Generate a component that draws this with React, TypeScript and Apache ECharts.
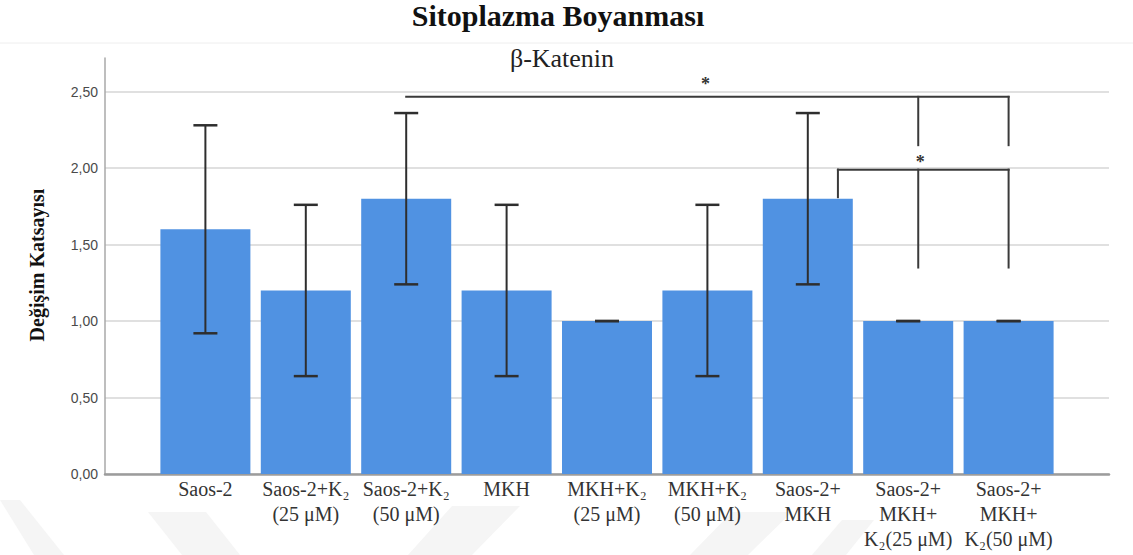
import React, { useEffect, useRef } from "react";
import * as echarts from "echarts";

// Group labels (x axis)
const categories = [
  "Saos-2",
  "Saos-2+K₂\n(25 μM)",
  "Saos-2+K₂\n(50 μM)",
  "MKH",
  "MKH+K₂\n(25 μM)",
  "MKH+K₂\n(50 μM)",
  "Saos-2+\nMKH",
  "Saos-2+\nMKH+\nK₂(25 μM)",
  "Saos-2+\nMKH+\nK₂(50 μM)",
];

// Mean change coefficient per group
const meanValues = [1.6, 1.2, 1.8, 1.2, 1.0, 1.2, 1.8, 1.0, 1.0];
// Error bar ends per group
const errorUpper = [2.28, 1.76, 2.36, 1.76, 1.0, 1.76, 2.36, 1.0, 1.0];
const errorLower = [0.92, 0.64, 1.24, 0.64, 1.0, 0.64, 1.24, 1.0, 1.0];

// Y axis range and step
const yMin = 0;
const yMax = 2.71;
const yStep = 0.5;

// Significance brackets: [x1, y1, x2, y2] in axis units
const bracketSegments = [
  [2, 2.466, 8, 2.466],
  [7.1, 2.466, 7.1, 2.15],
  [8, 2.466, 8, 2.15],
  [6.3, 1.99, 8, 1.99],
  [6.3, 1.99, 6.3, 1.81],
  [7.1, 1.99, 7.1, 1.35],
  [8, 1.99, 8, 1.35],
];
// Significance asterisks: [x, y]
const significanceMarks = [
  [4.98, 2.55],
  [7.12, 2.04],
];

const BAR_COLOR = "#5092e2";
const INK = "#2e2e2e";
const SERIF = "Liberation Serif";
const SANS = "Liberation Sans";

export default function App() {
  const ref = useRef<HTMLDivElement>(null);

  useEffect(() => {
    if (!ref.current) return;
    const chart = echarts.init(ref.current, null, { renderer: "svg" });

    const watermark = [
      [[0, 500], [20, 500], [64, 555], [34, 555]],
      [[148, 512], [206, 512], [240, 555], [182, 555]],
      [[452, 506], [520, 506], [472, 555], [408, 555]],
      [[732, 512], [792, 512], [748, 555], [690, 555]],
      [[842, 520], [874, 520], [846, 555], [812, 555]],
    ].map((pts) => ({
      type: "polygon",
      z: -10,
      silent: true,
      shape: { points: pts },
      style: { fill: "#f5f5f5" },
    }));

    chart.setOption({
      animation: false,
      backgroundColor: "#ffffff",
      textStyle: { fontFamily: SERIF },
      graphic: [
        ...watermark,
        {
          type: "line",
          z: -5,
          shape: { x1: 0, y1: 43, x2: 1133, y2: 43 },
          style: { stroke: "#eeeeee", lineWidth: 1 },
        },
        {
          type: "text",
          x: 558,
          y: 15,
          style: {
            text: "Sitoplazma Boyanması",
            fontFamily: SERIF,
            fontWeight: "bold",
            fontSize: 30,
            fill: "#111111",
            align: "center",
            verticalAlign: "middle",
          },
        },
        {
          type: "text",
          x: 562,
          y: 58,
          style: {
            text: "β-Katenin",
            fontFamily: SERIF,
            fontSize: 26,
            fill: "#222222",
            align: "center",
            verticalAlign: "middle",
          },
        },
        {
          type: "text",
          x: 37,
          y: 265,
          rotation: Math.PI / 2,
          style: {
            text: "Değişim Katsayısı",
            fontFamily: SERIF,
            fontWeight: "bold",
            fontSize: 20,
            fill: "#111111",
            align: "center",
            verticalAlign: "middle",
          },
        },
      ],
      grid: { left: 105, right: 24, top: 58, bottom: 81, containLabel: false },
      xAxis: {
        type: "value",
        min: -1,
        max: 9,
        interval: 1,
        axisLine: { show: true, onZero: false, lineStyle: { color: "#9c9c9c", width: 2.5 } },
        axisTick: { show: false },
        splitLine: { show: false },
        axisLabel: {
          margin: 2,
          fontFamily: SERIF,
          fontStyle: "normal",
          fontSize: 20,
          lineHeight: 25,
          color: "#333333",
          formatter: (v: number) => {
            const i = Math.round(v);
            return Math.abs(v - i) < 1e-6 && i >= 0 && i < categories.length
              ? categories[i]
              : "";
          },
        },
      },
      yAxis: {
        type: "value",
        min: yMin,
        max: 2.72,
        interval: yStep,
        axisLine: { show: true, onZero: false, lineStyle: { color: "#a8a8a8", width: 1.5 } },
        axisTick: { show: false },
        splitLine: {
          show: true,
          showMaxLine: false,
          lineStyle: { color: "#d6d6d6", width: 1.5 },
        },
        axisLabel: {
          margin: 7,
          showMaxLabel: false,
          fontFamily: SANS,
          fontSize: 14,
          color: "#4a4a4a",
          formatter: (v: number) => v.toFixed(2).replace(".", ","),
        },
      },
      series: [
        {
          type: "bar",
          barWidth: 90,
          itemStyle: { color: BAR_COLOR },
          data: meanValues.map((v, i) => [i, v]),
          z: 2,
        },
        {
          type: "custom",
          z: 5,
          encode: { x: 0, y: [1, 2] },
          data: meanValues.map((_, i) => [i, errorUpper[i], errorLower[i]]),
          renderItem: (_params: any, api: any) => {
            const x = api.value(0);
            const top = api.coord([x, api.value(1)]);
            const bot = api.coord([x, api.value(2)]);
            const half = 12;
            const style = { stroke: INK, lineWidth: 2 };
            return {
              type: "group",
              children: [
                { type: "line", shape: { x1: top[0], y1: top[1], x2: bot[0], y2: bot[1] }, style },
                { type: "line", shape: { x1: top[0] - half, y1: top[1], x2: top[0] + half, y2: top[1] }, style: { ...style, lineWidth: 2.5 } },
                { type: "line", shape: { x1: bot[0] - half, y1: bot[1], x2: bot[0] + half, y2: bot[1] }, style: { ...style, lineWidth: 2.5 } },
              ],
            };
          },
        },
        {
          type: "custom",
          z: 6,
          encode: { x: [0, 2], y: [1, 3] },
          data: bracketSegments,
          renderItem: (_params: any, api: any) => {
            const a = api.coord([api.value(0), api.value(1)]);
            const b = api.coord([api.value(2), api.value(3)]);
            return {
              type: "line",
              shape: { x1: a[0], y1: a[1], x2: b[0], y2: b[1] },
              style: { stroke: "#3a3a3a", lineWidth: 2, lineCap: "square" },
            };
          },
        },
        {
          type: "custom",
          z: 6,
          encode: { x: 0, y: 1 },
          data: significanceMarks,
          renderItem: (_params: any, api: any) => {
            const p = api.coord([api.value(0), api.value(1)]);
            return {
              type: "text",
              x: p[0],
              y: p[1],
              style: {
                text: "*",
                fontFamily: SERIF,
                fontWeight: "bold",
                fontSize: 18,
                fill: "#333333",
                align: "center",
                verticalAlign: "middle",
              },
            };
          },
        },
      ],
    });

    return () => chart.dispose();
  }, []);

  return (
    <div
      ref={ref}
      style={{ position: "absolute", left: 0, top: 0, width: 1133, height: 555 }}
    />
  );
}
